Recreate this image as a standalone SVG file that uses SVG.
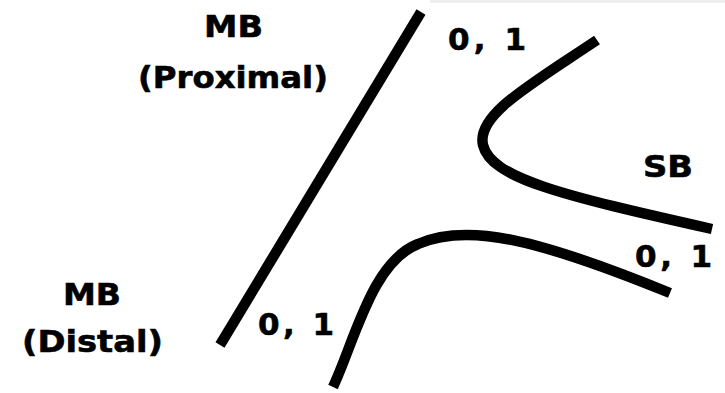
<svg xmlns="http://www.w3.org/2000/svg" width="725" height="393" viewBox="0 0 725 393">
<style>
.ln{fill:none;stroke:#000;stroke-width:10.5;stroke-linecap:butt}
.t{font-family:"DejaVu Sans","Liberation Sans",sans-serif;font-weight:bold;font-size:31px;fill:#000;stroke:#000;stroke-width:0.6}
</style>
<rect width="725" height="393" fill="#fff"/>
<rect x="430" y="0" width="295" height="3" fill="#eeeeee"/>
<g id="connectors">
<path class="ln" d="M421,12 L220,345"/>
<path class="ln" d="M597,40 C530,85 476,115 483,145 C491,178 560,195 712,229"/>
<path class="ln" d="M333,387 C355,340 372,262 418,244 C468,222 540,240 670,293"/>
</g>
<g id="mb-proximal">
<text class="t" x="204" y="37" textLength="59" lengthAdjust="spacingAndGlyphs">MB</text>
<text class="t" x="138" y="88" textLength="190" lengthAdjust="spacingAndGlyphs">(Proximal)</text>
</g>
<g id="mb-distal">
<text class="t" x="63" y="305" textLength="58" lengthAdjust="spacingAndGlyphs">MB</text>
<text class="t" x="22" y="352" textLength="141" lengthAdjust="spacingAndGlyphs">(Distal)</text>
</g>
<g id="sb">
<text class="t" x="643" y="177" textLength="50" lengthAdjust="spacingAndGlyphs">SB</text>
</g>
<g id="labels">
<text class="t" x="448" y="50" textLength="78" lengthAdjust="spacing">0, 1</text>
<text class="t" x="635" y="267" textLength="77" lengthAdjust="spacing">0, 1</text>
<text class="t" x="258" y="335" textLength="76" lengthAdjust="spacing">0, 1</text>
</g>
</svg>
